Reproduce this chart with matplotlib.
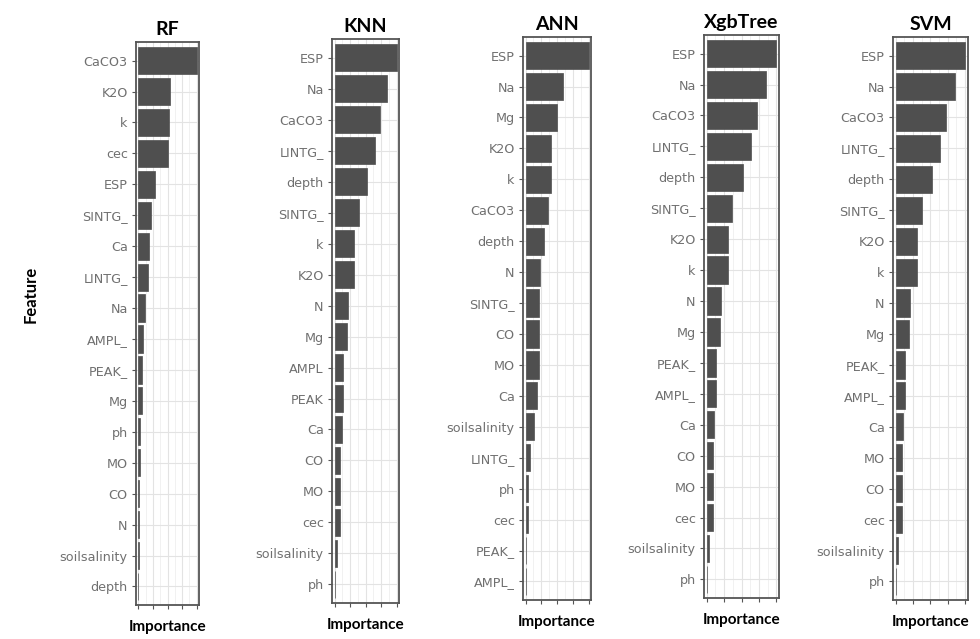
import numpy as np
import matplotlib.pyplot as plt

# variable importance per model, listed from most to least important
rf_features = ["CaCO3", "K2O", "k", "cec", "ESP", "SINTG_", "Ca", "LINTG_", "Na",
               "AMPL_", "PEAK_", "Mg", "ph", "MO", "CO", "N", "soilsalinity", "depth"]
rf_importance = [100, 55, 53, 51, 29, 21, 19, 16, 11, 7.5, 7, 6.5, 3.5, 2.5, 1.5, 1.2, 1, 0]

knn_features = ["ESP", "Na", "CaCO3", "LINTG_", "depth", "SINTG_", "k", "K2O", "N",
                "Mg", "AMPL", "PEAK", "Ca", "CO", "MO", "cec", "soilsalinity", "ph"]
knn_importance = [100, 85, 73, 65, 53, 39, 32, 32, 22, 20, 14, 14, 12, 9.5, 9.5, 9, 4, 0]

ann_features = ["ESP", "Na", "Mg", "K2O", "k", "CaCO3", "depth", "N", "SINTG_",
                "CO", "MO", "Ca", "soilsalinity", "LINTG_", "ph", "cec", "PEAK_", "AMPL_"]
ann_importance = [100, 60, 50, 41, 41, 35, 29, 23, 21, 21, 21, 18.5, 13, 7, 3.7, 3.3, 1.5, 0]

xgb_features = ["ESP", "Na", "CaCO3", "LINTG_", "depth", "SINTG_", "K2O", "k", "N",
                "Mg", "PEAK_", "AMPL_", "Ca", "CO", "MO", "cec", "soilsalinity", "ph"]
xgb_importance = [100, 85, 72, 64, 52, 37, 31, 31, 21, 19, 13, 13, 10.5, 8.5, 8.5, 8.5, 2.5, 0]

svm_features = ["ESP", "Na", "CaCO3", "LINTG_", "depth", "SINTG_", "K2O", "k", "N",
                "Mg", "PEAK_", "AMPL_", "Ca", "MO", "CO", "cec", "soilsalinity", "ph"]
svm_importance = [100, 85, 72, 64, 52, 38, 31, 31, 21, 19.6, 13.4, 13.4, 11, 9, 9, 9, 3, 0]

models = ["RF", "KNN", "ANN", "XgbTree", "SVM"]

# axes boxes [left, bottom, width, height] in figure fraction
boxes = [
    [0.1388, 0.0532, 0.0643, 0.881],
    [0.3388, 0.0563, 0.0684, 0.8826],
    [0.5337, 0.0610, 0.0694, 0.881],
    [0.7184, 0.0642, 0.0765, 0.881],
    [0.9112, 0.0610, 0.0765, 0.881],
]

def plotPanel(fig, box, title, names, values):
    ax = fig.add_axes(box)
    n = len(names)
    pos = np.arange(n)[::-1]
    ax.set_axisbelow(True)
    ax.barh(pos, values, height=0.88, color='#4f4f4f', edgecolor='#4f4f4f', linewidth=0.5)
    ax.set_ylim(-0.6, n - 0.4)
    ax.set_xlim(-4, 104)
    ax.set_yticks(pos)
    ax.set_yticklabels(names, fontsize=9.2, color='#707070', family='DejaVu Sans')
    ax.set_xticks([0, 25, 50, 75, 100])
    ax.set_xticks([12.5, 37.5, 62.5, 87.5], minor=True)
    ax.set_xticklabels([])
    ax.grid(True, which='major', color='#e3e3e3', linewidth=0.8)
    ax.grid(True, which='minor', axis='x', color='#efefef', linewidth=0.6)
    ax.tick_params(axis='both', which='major', length=3, width=0.8, color='#555555', pad=3)
    ax.tick_params(axis='x', which='minor', length=0)
    for s in ax.spines.values():
        s.set_color('#555555')
        s.set_linewidth(1.3)
    ax.set_title(title, fontsize=14, fontweight='bold', pad=5, family='Lato')
    ax.set_xlabel("Importance", fontsize=11, fontweight='bold', labelpad=5, family='Lato')
    return ax

fig = plt.figure(figsize=(9.8, 6.39), dpi=100)
data = [
    (rf_features, rf_importance),
    (knn_features, knn_importance),
    (ann_features, ann_importance),
    (xgb_features, xgb_importance),
    (svm_features, svm_importance),
]
for box, title, (names, vals) in zip(boxes, models, data):
    plotPanel(fig, box, title, names, vals)

fig.text(0.031, 0.54, "Feature", rotation=90, fontsize=12, fontweight='bold',
         ha='center', va='center', family='Lato')

fig.savefig("out.png", dpi=100)
